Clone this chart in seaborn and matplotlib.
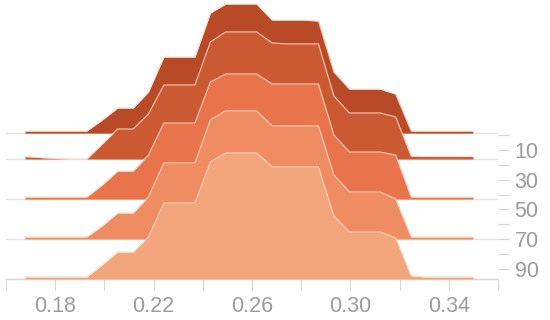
import matplotlib
matplotlib.use("Agg")
import matplotlib.pyplot as plt
import seaborn as sns
import numpy as np

sns.set_style("white")
plt.rcParams["font.family"] = ["Liberation Sans", "DejaVu Sans"]

# ---------- DATA ----------
x_values = [0.1677, 0.1740, 0.1803, 0.1865, 0.1928, 0.1991, 0.2054, 0.2117,
            0.2179, 0.2242, 0.2305, 0.2368, 0.2431, 0.2493, 0.2556, 0.2619,
            0.2682, 0.2745, 0.2807, 0.2870, 0.2933, 0.2996, 0.3059, 0.3121,
            0.3184, 0.3247, 0.3310, 0.3373, 0.3435, 0.3498]

ridge_1 = [0.2, 0.2, 0.2, 0.2, 0.2, 1.3, 2.5, 2.5, 4.1, 7.6, 7.6, 7.6,
           12.0, 12.9, 12.9, 12.9, 11.3, 11.3, 11.3, 11.2, 6.1, 4.4, 4.4, 4.4,
           3.9, 0.2, 0.2, 0.2, 0.2, 0.2]
ridge_2 = [0.25, 0.15, 0.05, 0.0, 0.0, 1.5, 3.0, 3.0, 4.5, 7.4, 7.4, 7.4,
           11.7, 12.7, 12.7, 12.7, 11.6, 11.5, 11.5, 11.5, 6.3, 4.6, 4.6, 4.6,
           4.2, 0.3, 0.25, 0.25, 0.25, 0.25]
ridge_3 = [0.2, 0.2, 0.2, 0.2, 0.2, 1.4, 2.8, 2.8, 4.4, 7.6, 7.6, 7.6,
           11.7, 12.5, 12.5, 12.5, 11.5, 11.5, 11.5, 11.5, 6.4, 4.7, 4.7, 4.7,
           4.4, 0.2, 0.2, 0.2, 0.2, 0.2]
ridge_4 = [0.2, 0.2, 0.2, 0.2, 0.2, 1.3, 2.6, 2.6, 4.2, 7.6, 7.6, 7.6,
           11.9, 12.8, 12.8, 12.8, 11.3, 11.3, 11.3, 11.3, 6.4, 4.7, 4.7, 4.7,
           4.0, 0.2, 0.2, 0.2, 0.2, 0.2]
ridge_5 = [0.2, 0.2, 0.2, 0.2, 0.2, 1.4, 2.7, 2.7, 4.2, 7.6, 7.6, 7.6,
           11.7, 12.6, 12.6, 12.6, 11.2, 11.2, 11.2, 11.2, 6.3, 4.7, 4.7, 4.7,
           4.1, 0.3, 0.2, 0.2, 0.2, 0.2]
ridges = [ridge_1, ridge_2, ridge_3, ridge_4, ridge_5]

y_ticks = [0, 10, 20, 30, 40, 50, 60, 70, 80, 90]
y_tick_labels = ["", "10", "", "30", "", "50", "", "70", "", "90"]
x_ticks = [0.16, 0.18, 0.20, 0.22, 0.24, 0.26, 0.28, 0.30, 0.32, 0.34, 0.36]
x_tick_labels = ["", "0.18", "", "0.22", "", "0.26", "", "0.30", "", "0.34", ""]

# ---------- LAYOUT ----------
baselines = [-1.3, 16.1, 43.0, 69.8, 96.7]
ridge_scale = 6.72
colors = sns.color_palette(["#B84A27", "#CB5A33", "#E9744B", "#F08C62", "#F3A57B"])
stroke = "#FBDCC8"

fig = plt.figure(figsize=(5.5, 3.2), dpi=100)
ax = fig.add_axes([6 / 550, 41 / 320, 492 / 550, 279 / 320])

for b in baselines:
    ax.axhline(b, color="#e3e3e3", lw=1, zorder=1)

x = np.array(x_values)
for i, (vals, b) in enumerate(zip(ridges, baselines)):
    top = b - np.array(vals) * ridge_scale
    ax.fill_between(x, b, top, color=colors[i], lw=0, zorder=2 + 2 * i)
    sns.lineplot(x=x, y=top, color=stroke, lw=0.85, alpha=0.85, ax=ax,
                 zorder=3 + 2 * i)

ax.set_xlim(0.16, 0.36)
ax.set_ylim(96.7, -90.7)

ax.set_xticks(x_ticks)
ax.set_xticklabels(x_tick_labels)
ax.yaxis.tick_right()
ax.set_yticks(y_ticks)
ax.set_yticklabels(y_tick_labels)
ax.set_xlabel("")
ax.set_ylabel("")

for side in ["top", "left", "right"]:
    ax.spines[side].set_visible(False)
ax.spines["bottom"].set_color("#dadada")
ax.spines["bottom"].set_linewidth(1)

ax.tick_params(axis="x", length=8, width=0.8, color="#d5d5d5", pad=4.5,
               labelsize=15.5, labelcolor="#9c9c9c", bottom=True)
ax.tick_params(axis="y", length=8, width=0.8, color="#d5d5d5", pad=4,
               labelsize=15.5, labelcolor="#9c9c9c", right=True, left=False)

fig.savefig("out.png", dpi=100)
